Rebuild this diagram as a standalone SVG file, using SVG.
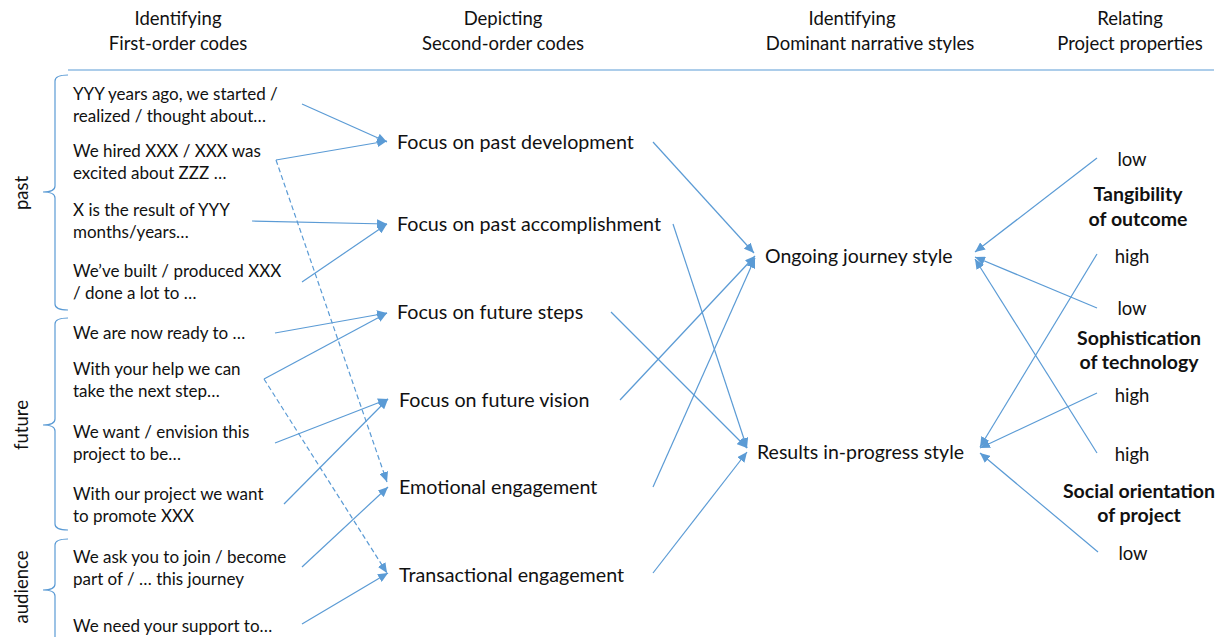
<svg xmlns="http://www.w3.org/2000/svg" width="1226" height="637" viewBox="0 0 1226 637">
<style>
text{font-family:Lato,"Liberation Sans",sans-serif;fill:#111;}
.h{font-size:18.5px;text-anchor:middle;}
.c1{font-size:17px;}
.c2{font-size:19.7px;}
.c3{font-size:19.5px;}
.p{font-size:18.5px;text-anchor:middle;}
.b{font-size:19.5px;font-weight:bold;text-anchor:middle;}
.side{font-size:18.5px;text-anchor:middle;}
.ln{stroke:#5B9BD5;stroke-width:1.2;fill:none;}
.ar{marker-end:url(#arr);}
.d{stroke-dasharray:5 3;}
</style>
<defs>
<marker id="arr" markerUnits="userSpaceOnUse" markerWidth="11" markerHeight="9" refX="10" refY="4.5" orient="auto" viewBox="0 0 11 9">
<path d="M0,0 L10,4.5 L0,9 Z" fill="#5B9BD5"/>
</marker>
</defs>
<rect width="1226" height="637" fill="#fff"/>

<g id="headers">
<text class="h" x="178" y="25">Identifying</text>
<text class="h" x="178" y="50">First-order codes</text>
<text class="h" x="503" y="25">Depicting</text>
<text class="h" x="503" y="50">Second-order codes</text>
<text class="h" x="852" y="25">Identifying</text>
<text class="h" x="870" y="50">Dominant narrative styles</text>
<text class="h" x="1130" y="25">Relating</text>
<text class="h" x="1130" y="50">Project properties</text>
<line class="ln" x1="68" y1="70" x2="1214" y2="70"/>
</g>

<g id="braces">
<path class="ln" d="M68,75 Q55,75 55,81 L55,186 Q55,192 43,192 Q55,192 55,198 L55,304 Q55,310 68,310"/>
<path class="ln" d="M68,318 Q55,318 55,324 L55,419 Q55,425 43,425 Q55,425 55,431 L55,524 Q55,530 68,530"/>
<path class="ln" d="M68,539 Q55,539 55,545 L55,584 Q55,590 43,590 Q55,590 55,596 L55,650"/>
<text class="side" transform="translate(28,193) rotate(-90)">past</text>
<text class="side" transform="translate(28,425) rotate(-90)">future</text>
<text class="side" transform="translate(28,587) rotate(-90)">audience</text>
</g>

<g id="first-order">
<g id="fo1"><text class="c1" x="73" y="100">YYY years ago, we started /</text><text class="c1" x="73" y="122">realized / thought about…</text></g>
<g id="fo2"><text class="c1" x="73" y="157">We hired XXX / XXX was</text><text class="c1" x="73" y="179">excited about ZZZ …</text></g>
<g id="fo3"><text class="c1" x="73" y="216">X is the result of YYY</text><text class="c1" x="73" y="238">months/years…</text></g>
<g id="fo4"><text class="c1" x="73" y="277">We’ve built / produced XXX</text><text class="c1" x="73" y="299">/ done a lot to …</text></g>
<g id="fo5"><text class="c1" x="73" y="339">We are now ready to …</text></g>
<g id="fo6"><text class="c1" x="73" y="375">With your help we can</text><text class="c1" x="73" y="397">take the next step…</text></g>
<g id="fo7"><text class="c1" x="73" y="438">We want / envision this</text><text class="c1" x="73" y="460">project to be…</text></g>
<g id="fo8"><text class="c1" x="73" y="500">With our project we want</text><text class="c1" x="73" y="522">to promote XXX</text></g>
<g id="fo9"><text class="c1" x="73" y="563">We ask you to join / become</text><text class="c1" x="73" y="585">part of / … this journey</text></g>
<g id="fo10"><text class="c1" x="73" y="632">We need your support to…</text></g>
</g>

<g id="second-order">
<g id="so1"><text class="c2" x="397" y="149">Focus on past development</text></g>
<g id="so2"><text class="c2" x="397" y="231">Focus on past accomplishment</text></g>
<g id="so3"><text class="c2" x="397" y="319">Focus on future steps</text></g>
<g id="so4"><text class="c2" x="399" y="407">Focus on future vision</text></g>
<g id="so5"><text class="c2" x="399" y="494">Emotional engagement</text></g>
<g id="so6"><text class="c2" x="399" y="582">Transactional engagement</text></g>
</g>

<g id="styles">
<g id="ongoing"><text class="c3" x="765" y="263">Ongoing journey style</text></g>
<g id="results"><text class="c3" x="757" y="459">Results in-progress style</text></g>
</g>

<g id="properties">
<g id="tangibility">
<text class="p" x="1132" y="166">low</text>
<text class="b" x="1138" y="201">Tangibility</text>
<text class="b" x="1138" y="226">of outcome</text>
<text class="p" x="1132" y="263">high</text>
</g>
<g id="sophistication">
<text class="p" x="1132" y="315">low</text>
<text class="b" x="1139" y="345">Sophistication</text>
<text class="b" x="1139" y="369">of technology</text>
<text class="p" x="1132" y="402">high</text>
</g>
<g id="social">
<text class="p" x="1132" y="461">high</text>
<text class="b" x="1139" y="498">Social orientation</text>
<text class="b" x="1139" y="522">of project</text>
<text class="p" x="1133" y="560">low</text>
</g>
</g>

<g id="connectors">
<line class="ln ar" x1="302" y1="104" x2="387" y2="142"/>
<line class="ln ar" x1="276" y1="160" x2="387" y2="141"/>
<line class="ln ar d" x1="276" y1="160" x2="387" y2="482"/>
<line class="ln ar" x1="252" y1="221" x2="387" y2="224"/>
<line class="ln ar" x1="302" y1="282" x2="387" y2="224"/>
<line class="ln ar" x1="275" y1="333" x2="387" y2="313"/>
<line class="ln ar" x1="264" y1="379" x2="387" y2="313"/>
<line class="ln ar d" x1="264" y1="379" x2="387" y2="573"/>
<line class="ln ar" x1="275" y1="443" x2="388" y2="399"/>
<line class="ln ar" x1="284" y1="504" x2="388" y2="399"/>
<line class="ln ar" x1="302" y1="567" x2="388" y2="487"/>
<line class="ln ar" x1="302" y1="624" x2="388" y2="573"/>

<line class="ln ar" x1="653" y1="142" x2="754" y2="253"/>
<line class="ln ar" x1="673" y1="224" x2="747" y2="448"/>
<line class="ln ar" x1="611" y1="312" x2="747" y2="448"/>
<line class="ln ar" x1="620" y1="400" x2="755" y2="256"/>
<line class="ln ar" x1="653" y1="487" x2="755" y2="258"/>
<line class="ln ar" x1="653" y1="573" x2="747" y2="452"/>

<line class="ln ar" x1="1097" y1="158" x2="975" y2="252"/>
<line class="ln ar" x1="1097" y1="254" x2="980" y2="447"/>
<line class="ln ar" x1="1097" y1="308" x2="975" y2="257"/>
<line class="ln ar" x1="1097" y1="393" x2="980" y2="448"/>
<line class="ln ar" x1="1097" y1="453" x2="975" y2="259"/>
<line class="ln ar" x1="1098" y1="552" x2="980" y2="453"/>
</g>
</svg>
